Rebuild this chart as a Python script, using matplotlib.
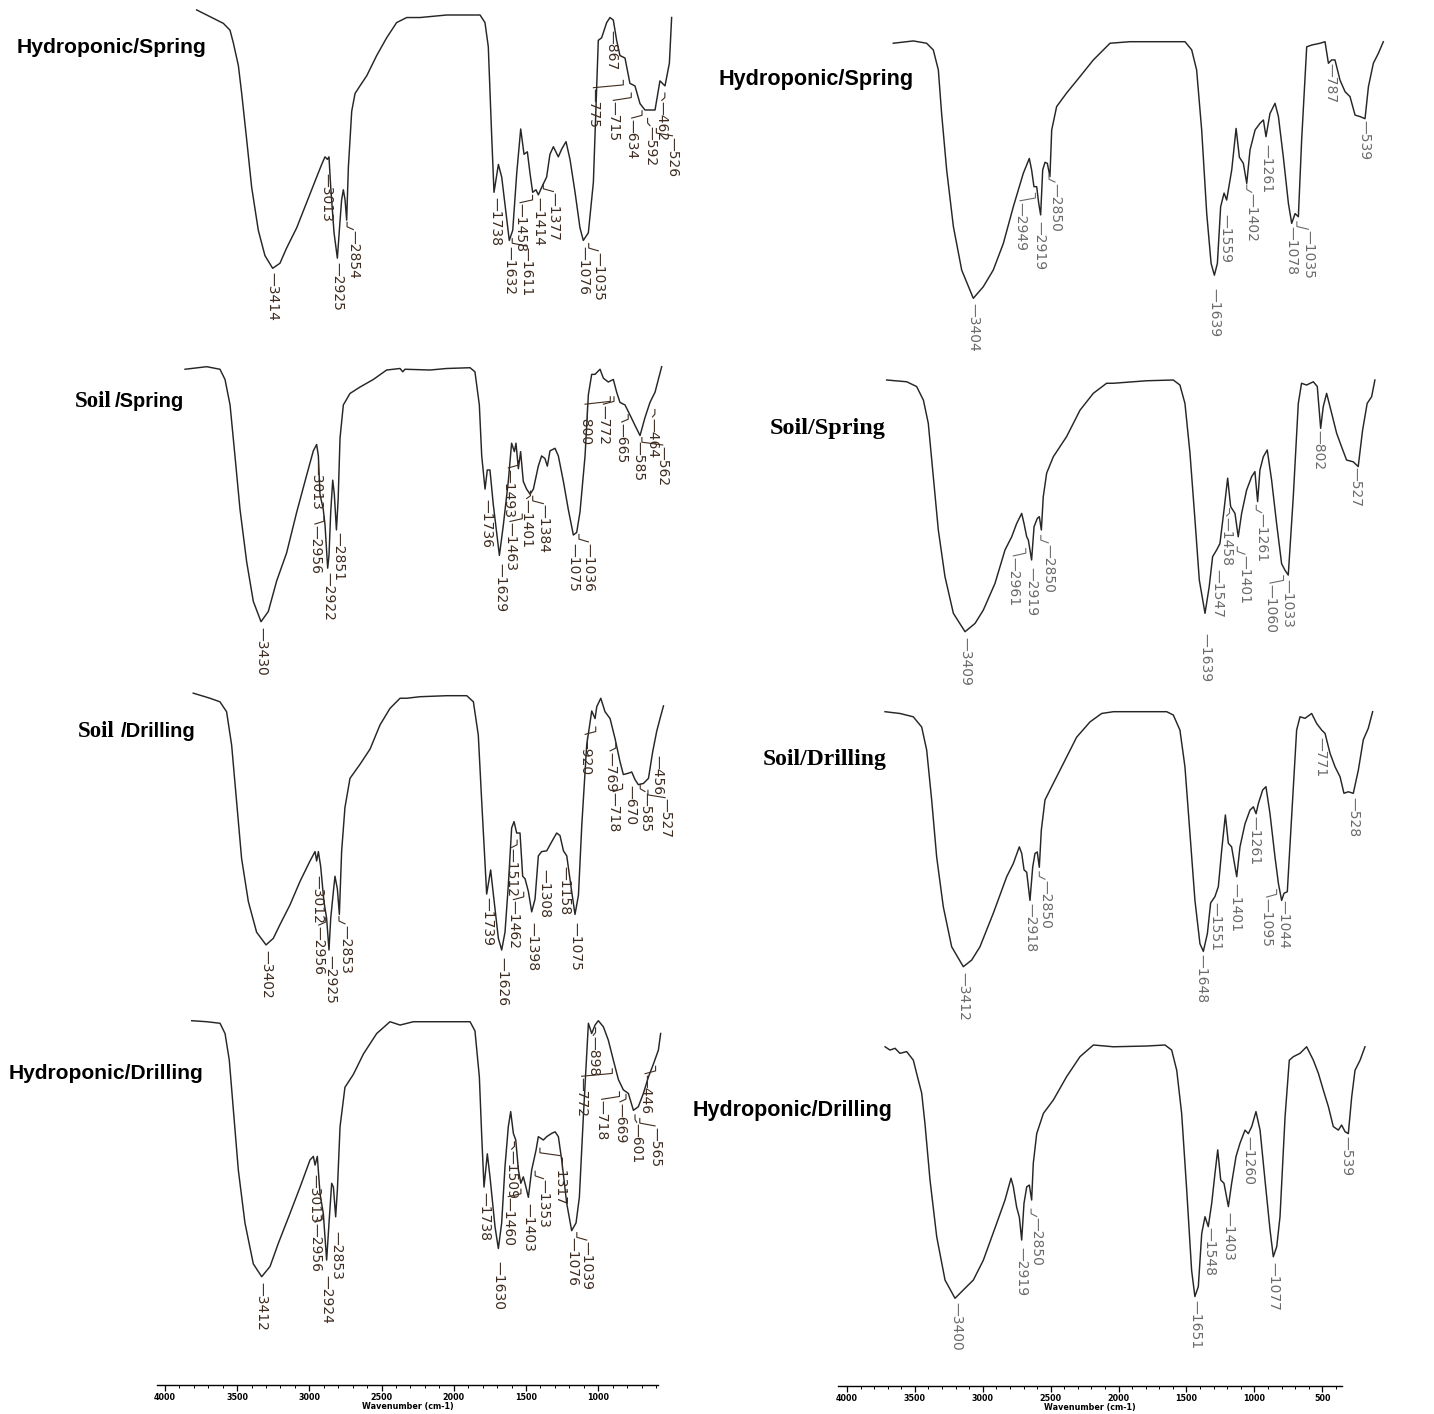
import matplotlib
matplotlib.use("Agg")
import matplotlib.pyplot as plt
from matplotlib.ticker import MultipleLocator

W, H = 1434, 1414

# FTIR spectra: wavenumber (cm-1) and transmittance (%)
# left column
l1_wn = [3986, 3861, 3785, 3735, 3710, 3672, 3647, 3610, 3572, 3522, 3472, 3414, 3359, 3309, 3233, 3158,
         3083, 3045, 3020, 3002, 2990, 2977, 2952, 2927, 2912, 2895, 2882, 2869, 2857, 2844, 2819, 2794,
         2757, 2706, 2631, 2556, 2481, 2405, 2355, 2305, 2104, 1853, 1816, 1791, 1766, 1748, 1715, 1690,
         1658, 1633, 1607, 1577, 1547, 1522, 1497, 1477, 1457, 1432, 1414, 1389, 1352, 1327, 1301, 1264,
         1239, 1206, 1176, 1138, 1101, 1076, 1038, 1000, 963, 938, 900, 875, 850, 825, 800, 762, 725, 687,
         649, 612, 574, 536, 499, 461, 428, 411]
l1_t = [102, 98.7, 96.7, 94, 89, 80, 69, 51, 32, 15, 5, 0, 2, 8, 16, 26, 36, 41, 44, 43, 44, 32, 14, 4, 15,
        27, 31, 27, 19, 40, 62, 69, 72, 76, 84, 91, 97, 99, 99, 99, 100, 100, 97, 87.5, 53, 30, 41, 36, 22,
        11, 15, 37.5, 55, 45, 46, 37.5, 30, 31, 29, 32, 36, 45, 48, 44, 47, 50, 43, 30, 16, 11, 14, 34, 90,
        91, 97, 99, 98, 90, 84, 83, 73, 72, 65, 62.5, 62.5, 62.5, 74, 72, 81, 99]
l1_peaks = [3414, 3013, 2925, 2854, 1738, 1632, 1611, 1458, 1414, 1377, 1076, 1035, 867, 775, 715, 634,
            592, 462, 526]

l2_wn = [4002, 3839, 3739, 3701, 3663, 3626, 3588, 3538, 3488, 3430, 3375, 3312, 3237, 3161, 3086, 3036,
         3011, 2998, 2986, 2961, 2948, 2928, 2918, 2905, 2890, 2878, 2862, 2849, 2835, 2810, 2760, 2685,
         2584, 2484, 2383, 2363, 2346, 2157, 2032, 1856, 1819, 1786, 1768, 1743, 1726, 1706, 1681, 1635,
         1605, 1568, 1543, 1522, 1510, 1492, 1475, 1455, 1430, 1404, 1379, 1342, 1317, 1292, 1274, 1254,
         1216, 1191, 1153, 1116, 1078, 1053, 1028, 990, 965, 940, 915, 877, 852, 815, 777, 752, 727, 689,
         651, 614, 576, 539, 501, 463, 413]
l2_t = [99, 100, 99, 95, 85, 65, 44, 23.5, 8, 0, 4, 16, 27, 43, 57.5, 67, 69.5, 65, 50, 44, 38, 21, 26, 43,
        55.5, 50, 36, 48, 72, 85, 89.5, 92, 95, 98.7, 99.3, 98, 99, 98.7, 99.3, 99.6, 98, 85, 65, 52, 59.5,
        59.5, 46, 26, 38, 55, 70, 66.7, 70, 60, 66.7, 55, 52, 50, 52, 61, 65, 64, 61, 67, 68, 65, 55, 44,
        34, 35, 43, 65, 89, 97, 97, 99, 95.5, 94, 95, 90, 86, 85, 81, 77, 73, 80, 86, 90, 100]
l2_peaks = [3430, 3013, 2956, 2922, 2851, 1736, 1629, 1493, 1463, 1401, 1384, 1075, 1036, 800, 772, 665,
            585, 464, 562]

l3_wn = [3950, 3824, 3749, 3699, 3661, 3623, 3586, 3535, 3473, 3402, 3347, 3297, 3222, 3146, 3071, 3033,
         3021, 3008, 2991, 2966, 2946, 2928, 2915, 2895, 2883, 2865, 2850, 2833, 2808, 2770, 2695, 2619,
         2544, 2469, 2393, 2343, 2243, 2042, 1891, 1841, 1804, 1778, 1741, 1711, 1690, 1653, 1628, 1603,
         1578, 1553, 1535, 1515, 1490, 1470, 1452, 1427, 1402, 1377, 1352, 1327, 1289, 1251, 1214, 1189,
         1163, 1138, 1101, 1076, 1050, 1025, 988, 950, 925, 912, 882, 850, 812, 774, 737, 712, 674, 649,
         624, 599, 561, 523, 491, 461, 436, 410]
l3_t = [101, 99, 97.6, 93.7, 80.6, 58, 36, 19, 7, 2, 4.6, 10, 17.7, 27, 35, 38.7, 35, 38.7, 33, 19, 12.5,
        0, 12.5, 23, 29, 24, 14, 38.7, 56, 67.5, 73, 79, 88.5, 95, 99, 99, 99.6, 100, 100, 97.6, 84.5, 58,
        22, 31.5, 21.6, 4.6, 0, 7, 25.5, 48, 50.5, 46, 46, 29, 28, 23, 15, 20, 37, 38.7, 39, 42.6, 46, 45,
        39, 37, 23, 14, 21.6, 49, 80.6, 94, 91, 95.7, 99, 93.7, 91, 83, 74, 69, 69.5, 70, 67, 65, 65.5,
        67.5, 78, 86, 91, 96]
l3_peaks = [3402, 3012, 2956, 2925, 2853, 1739, 1626, 1512, 1462, 1398, 1308, 1158, 1075, 920, 769, 718,
            670, 585, 456, 527]

l4_wn = [3939, 3826, 3726, 3688, 3656, 3625, 3588, 3538, 3475, 3412, 3349, 3287, 3199, 3123, 3048, 3023,
         3010, 2993, 2973, 2948, 2923, 2905, 2885, 2872, 2855, 2842, 2822, 2785, 2722, 2646, 2546, 2446,
         2370, 2270, 2019, 1843, 1806, 1773, 1755, 1738, 1713, 1693, 1655, 1630, 1605, 1580, 1555, 1537,
         1517, 1499, 1479, 1461, 1442, 1422, 1404, 1379, 1346, 1329, 1291, 1266, 1228, 1203, 1178, 1153,
         1115, 1078, 1045, 1020, 990, 952, 927, 902, 877, 839, 802, 764, 726, 689, 651, 613, 576, 538, 500,
         463, 425, 408]
l4_t = [100, 99.6, 99, 95, 84.6, 65, 41.7, 21, 5, 0, 4, 13, 24.7, 35, 45.6, 47, 43.6, 47, 32.5, 24.7, 6.5,
        21, 36.5, 35, 23.4, 34, 58.6, 74, 79, 87, 95, 99.6, 98.3, 99.6, 99.6, 99.6, 96, 78, 54.7, 35, 48,
        39, 19.5, 11, 21, 43, 58.6, 64.5, 56, 53.4, 41.7, 36.5, 39, 35, 31, 41.7, 49.5, 54.7, 53.4, 54.7,
        56, 56.6, 54.7, 45.6, 28.6, 18, 21, 31, 62.5, 99, 95, 98.3, 100, 97.6, 92.4, 84.6, 77, 73, 71.6,
        65, 66.4, 71.6, 78, 83, 88.5, 95]
l4_peaks = [3412, 3013, 2956, 2924, 2853, 1738, 1630, 1509, 1460, 1403, 1353, 1317, 1076, 1039, 898, 772,
            718, 669, 601, 446, 565]

# right column
r1_wn = [3990, 3843, 3746, 3697, 3660, 3636, 3599, 3550, 3489, 3404, 3331, 3258, 3184, 3111, 3038, 2994,
         2977, 2960, 2940, 2925, 2911, 2896, 2879, 2862, 2843, 2830, 2794, 2721, 2623, 2525, 2403, 2257,
         2013, 1854, 1805, 1769, 1732, 1695, 1663, 1639, 1617, 1593, 1568, 1549, 1512, 1480, 1456, 1427,
         1402, 1378, 1341, 1305, 1280, 1261, 1232, 1195, 1170, 1134, 1097, 1073, 1048, 1024, 1000, 963,
         926, 865, 829, 804, 780, 756, 719, 682, 646, 609, 572, 536, 511, 475, 438, 402]
r1_t = [99.4, 100.3, 99.4, 96.8, 89, 72, 50, 28, 11, 0, 4.5, 11, 21.4, 35.7, 48.7, 54.5, 50, 43.5, 43.5,
        37, 32.5, 50, 53, 52.6, 47.4, 65.6, 74.7, 80, 86.4, 92.9, 99.4, 100, 100, 100, 96.8, 89, 65.6, 33,
        13.6, 9, 13.6, 35.7, 41, 38.3, 50, 66.2, 55, 52.6, 44.8, 57.8, 65.6, 68.2, 69.5, 63, 72, 76, 70.8,
        55, 37, 29.2, 33, 31.8, 61.7, 98, 98.7, 99.4, 100, 91.6, 92.9, 92.9, 85, 80.5, 78.6, 71.4, 70.8,
        70, 82.5, 91.6, 95.5, 100]
r1_peaks = [3404, 2949, 2919, 2850, 1639, 1559, 1402, 1261, 1078, 1035, 787, 539]

r2_wn = [3987, 3839, 3766, 3716, 3680, 3643, 3606, 3557, 3495, 3409, 3335, 3274, 3188, 3114, 3065, 3028,
         2991, 2974, 2954, 2942, 2918, 2900, 2876, 2861, 2846, 2832, 2807, 2758, 2660, 2561, 2463, 2365,
         2315, 2070, 1873, 1824, 1787, 1750, 1713, 1681, 1639, 1608, 1583, 1553, 1529, 1499, 1472, 1450,
         1418, 1394, 1369, 1332, 1295, 1271, 1251, 1234, 1209, 1180, 1148, 1111, 1074, 1050, 1025, 988,
         951, 927, 890, 840, 811, 786, 767, 742, 705, 668, 632, 595, 546, 509, 477, 443, 410, 386]
r2_t = [100, 99.3, 97.4, 92, 82.8, 61.6, 40.4, 21.9, 7.3, 0, 3.3, 8.6, 19.2, 32.5, 37.7, 43, 47, 43, 37.7,
        36.4, 28.5, 41.7, 45, 45.7, 40.4, 53.6, 63, 69.5, 77.5, 88, 94.7, 98.7, 98.7, 99.7, 100, 98, 90.7,
        71, 44.4, 20.5, 7.3, 17.9, 29.8, 32.5, 35, 48.3, 61, 49.7, 47, 37.7, 47, 56.3, 61.6, 63.6, 51.7,
        64.2, 69.5, 72.2, 60.3, 43, 27, 24.5, 22.5, 53.6, 90.7, 98.7, 98, 99.3, 97.4, 80.8, 89.4, 94.7,
        86.8, 78.8, 73.5, 68.2, 67.5, 65.6, 80, 90.7, 93.4, 100]
r2_peaks = [3409, 2961, 2919, 2850, 1639, 1547, 1458, 1401, 1261, 1060, 1033, 802, 527]

r3_wn = [3991, 3880, 3782, 3720, 3683, 3646, 3609, 3560, 3498, 3412, 3350, 3289, 3190, 3091, 3042, 2998,
         2980, 2963, 2943, 2919, 2899, 2882, 2865, 2850, 2835, 2808, 2759, 2672, 2574, 2475, 2389, 2302,
         2056, 1908, 1859, 1810, 1773, 1736, 1699, 1662, 1637, 1607, 1583, 1551, 1526, 1501, 1474, 1452,
         1428, 1390, 1366, 1329, 1292, 1267, 1247, 1230, 1198, 1174, 1144, 1107, 1082, 1058, 1040, 1016,
         984, 947, 922, 885, 836, 799, 762, 737, 700, 663, 626, 597, 565, 528, 491, 454, 417, 385]
r3_t = [100, 99.3, 98, 94, 85, 65.4, 43, 23.5, 7.8, 0, 2.6, 7.8, 21, 35.3, 40.5, 47, 44.4, 38, 37, 26, 39,
        44.4, 45, 39, 53.6, 65.4, 70.6, 79.7, 90, 96, 99.3, 100, 100, 100, 98.7, 92.8, 78.4, 52.3, 26, 9,
        6, 13, 25, 27.5, 31.4, 45.8, 59.5, 48.4, 47, 35.3, 47, 56, 61.4, 62.7, 60, 64, 69.3, 70.6, 60, 43,
        32.7, 26, 28.8, 29.4, 58.8, 92.8, 98, 97.4, 99.3, 95.4, 92.8, 91.5, 83.7, 78.4, 74.5, 68, 68.6,
        68, 77, 89, 93.5, 100]
r3_peaks = [3412, 2918, 2850, 1648, 1551, 1401, 1261, 1095, 1044, 771, 528]

r4_wn = [3919, 3883, 3846, 3810, 3761, 3712, 3688, 3651, 3627, 3590, 3541, 3480, 3407, 3346, 3273, 3200,
         3102, 3041, 2997, 2980, 2956, 2936, 2919, 2902, 2882, 2863, 2846, 2834, 2809, 2760, 2687, 2590,
         2492, 2394, 2248, 2004, 1870, 1821, 1784, 1748, 1711, 1675, 1651, 1626, 1601, 1577, 1553, 1528,
         1504, 1484, 1462, 1438, 1406, 1382, 1350, 1321, 1284, 1260, 1235, 1204, 1174, 1138, 1101, 1077,
         1052, 1028, 991, 960, 930, 882, 833, 784, 747, 711, 674, 638, 601, 577, 552, 528, 503, 479, 442,
         406]
r4_t = [99.3, 98, 98.7, 96.7, 97.4, 94, 88.8, 81, 69, 46.7, 24.3, 7.2, 0, 3.3, 7.2, 15, 29.6, 38.8, 47.4,
        44, 36, 32, 23, 37.5, 44, 44.7, 38.8, 53.3, 65, 73, 78.3, 87.5, 95.4, 100, 99.3, 99.6, 100, 98,
        90, 73, 42.8, 11, 0.7, 4.6, 25.6, 32.2, 28.3, 37.5, 49.3, 58.6, 46.7, 45.4, 36.2, 45.4, 56, 61.2,
        66.4, 65, 67.8, 73.7, 66.4, 46.7, 27, 16.4, 20.4, 32.2, 71.7, 94, 95.4, 96.7, 99.3, 94, 88.8,
        82.2, 75.7, 67.8, 66.4, 68.4, 65.8, 65, 79.6, 90, 94, 99.3]
r4_peaks = [3400, 2919, 2850, 1651, 1548, 1403, 1260, 1077, 539]

# where each peak label sits (x in cm-1, top of label in %T)
l1_lab_x = [3414, 3013, 2925, 2807, 1738, 1632, 1502, 1552, 1414, 1301, 1076, 963, 867, 1000, 850, 712, 574, 485, 405]
l1_lab_y = [-1.3, 37.5, 2.6, 15, 28, 9, 8.5, 25.6, 28, 30, 9, 6.6, 94, 71, 66, 59, 56, 66, 52]
l2_lab_x = [3430, 3013, 3024, 2922, 2851, 1736, 1629, 1568, 1555, 1430, 1304, 1075, 965, 990, 852, 714, 585, 482, 405]
l2_lab_y = [-2, 63, 38, 19.6, 35, 48, 23, 60, 39, 48, 46, 31, 31, 85, 85, 78, 71, 80, 69]
l3_lab_x = [3402, 3012, 3005, 2915, 2808, 1739, 1626, 1553, 1540, 1398, 1308, 1158, 1075, 1000, 812, 787, 662, 549, 456, 398]
l3_lab_y = [0, 29.5, 9.5, -2, 10, 21, -2.6, 40, 19.5, 11, 32, 33, 11, 84.5, 78, 62, 65, 62, 76.7, 59.6]
l4_lab_x = [3412, 3013, 3010, 2924, 2853, 1738, 1630, 1530, 1555, 1403, 1291, 1165, 1076, 965, 915, 1003, 852, 714, 588, 525, 450]
l4_lab_y = [-2, 40, 21, 0.7, 18, 33, 6, 49.5, 31, 28.6, 38, 47, 15.6, 14, 94, 78, 69, 68, 60, 79, 58.6]
r1_lab_x = [3404, 3062, 2919, 2806, 1639, 1559, 1366, 1261, 1078, 951, 787, 539]
r1_lab_y = [-2, 37.7, 30, 45, 4, 33, 41, 60, 28, 26.6, 91.6, 69.5]
r2_lab_x = [3409, 3053, 2919, 2795, 1639, 1548, 1480, 1345, 1222, 1160, 1033, 802, 527]
r2_lab_y = [-2, 29.8, 25.8, 35, -0.7, 25, 45.7, 30.5, 47, 19, 21, 80, 65.6]
r3_lab_x = [3412, 2918, 2808, 1648, 1551, 1401, 1261, 1169, 1044, 771, 528]
r3_lab_y = [-2, 25, 34, 5, 25.5, 32.7, 59, 27, 26, 90, 66.7]
r4_lab_x = [3400, 2919, 2809, 1651, 1548, 1403, 1260, 1077, 539]
r4_lab_y = [-1.3, 20.4, 32, -0.7, 28, 34, 64, 14.5, 64]

LEFT_LAB = "#3d2b1f"
RIGHT_LAB = "#6a6a6a"

# panel boxes in pixels: x of 4000 cm-1, x of 400 cm-1, y of 100 %T, y of 0 %T
panels = [
    ((194.8, 673.1, 15.0, 268.3), l1_wn, l1_t, l1_peaks, l1_lab_x, l1_lab_y, LEFT_LAB),
    ((185.3, 663.4, 366.7, 621.7), l2_wn, l2_t, l2_peaks, l2_lab_x, l2_lab_y, LEFT_LAB),
    ((186.6, 664.8, 695.7, 950.0), l3_wn, l3_t, l3_peaks, l3_lab_x, l3_lab_y, LEFT_LAB),
    ((183.6, 661.7, 1020.7, 1276.7), l4_wn, l4_t, l4_peaks, l4_lab_x, l4_lab_y, LEFT_LAB),
    ((891.9, 1383.6, 41.7, 298.3), r1_wn, r1_t, r1_peaks, r1_lab_x, r1_lab_y, RIGHT_LAB),
    ((884.9, 1373.0, 380.0, 631.7), r2_wn, r2_t, r2_peaks, r2_lab_x, r2_lab_y, RIGHT_LAB),
    ((883.8, 1370.6, 711.7, 966.7), r3_wn, r3_t, r3_peaks, r3_lab_x, r3_lab_y, RIGHT_LAB),
    ((874.0, 1365.8, 1045.0, 1298.3), r4_wn, r4_t, r4_peaks, r4_lab_x, r4_lab_y, RIGHT_LAB),
]

fig = plt.figure(figsize=(W / 100, H / 100), dpi=100)
fig.patch.set_facecolor("white")


def fx(x):
    return x / W


def fy(y):
    return 1 - y / H


for box, wn, t, peaks, lab_x, lab_y, lab_col in panels:
    x0, x1, ytop, ybot = box
    ax = fig.add_axes([fx(x0), fy(ybot), (x1 - x0) / W, (ybot - ytop) / H])
    ax.set_xlim(4000, 400)
    ax.set_ylim(0, 100)
    ax.axis("off")
    ax.plot(wn, t, color="#262626", lw=1.05, clip_on=False)
    for p, lx, ly in zip(peaks, lab_x, lab_y):
        if abs(lx - p) > 12:
            # bent leader from the band to its shifted label
            ax.plot([p, p, lx], [ly + 3.2, ly + 1.4, ly + 0.3], color=lab_col, lw=0.8, clip_on=False)
        ax.text(lx, ly, "\u2014" + str(p), rotation=270, ha="center", va="top",
                fontsize=10, color=lab_col, family="DejaVu Sans", clip_on=False)

# sample titles
SANS = "Liberation Sans"
SERIF = "Liberation Serif"
fig.text(fx(17), fy(53), "Hydroponic/Spring", family=SANS, weight="bold", fontsize=15.2)
fig.text(fx(75), fy(407), "Soil", family=SERIF, weight="bold", fontsize=16.5)
fig.text(fx(115), fy(407), "/Spring", family=SANS, weight="bold", fontsize=14.5)
fig.text(fx(78), fy(737), "Soil", family=SERIF, weight="bold", fontsize=16.5)
fig.text(fx(121), fy(737), "/Drilling", family=SANS, weight="bold", fontsize=14.5)
fig.text(fx(9), fy(1079), "Hydroponic/Drilling", family=SANS, weight="bold", fontsize=15.1)
fig.text(fx(718), fy(85), "Hydroponic/Spring", family=SANS, weight="bold", fontsize=15.6)
fig.text(fx(770), fy(434), "Soil/Spring", family=SERIF, weight="bold", fontsize=17.5)
fig.text(fx(763), fy(765), "Soil/Drilling", family=SERIF, weight="bold", fontsize=17)
fig.text(fx(693), fy(1116), "Hydroponic/Drilling", family=SANS, weight="bold", fontsize=15.5)

# wavenumber axes under each column
axis_boxes = [((157, 658, 1385), (4055, 586)), ((838, 1342, 1386), (4066, 355))]
for (xa, xb, ya), lims in axis_boxes:
    axb = fig.add_axes([fx(xa), fy(ya), (xb - xa) / W, 0.0005])
    axb.set_xlim(*lims)
    axb.patch.set_alpha(0)
    for s in ("top", "left", "right"):
        axb.spines[s].set_visible(False)
    axb.spines["bottom"].set_linewidth(1.0)
    axb.set_yticks([])
    axb.xaxis.set_major_locator(MultipleLocator(500))
    axb.xaxis.set_minor_locator(MultipleLocator(100))
    axb.tick_params(axis="x", which="major", direction="out", length=4, width=0.9, pad=1.5,
                    labelsize=5.8)
    axb.tick_params(axis="x", which="minor", direction="out", length=2.2, width=0.7)
    for lab in axb.get_xticklabels():
        lab.set_fontweight("bold")
    axb.set_xlabel("Wavenumber (cm-1)", fontsize=5.8, fontweight="bold", labelpad=0.5)

fig.savefig("out.png", dpi=100, facecolor="white")
